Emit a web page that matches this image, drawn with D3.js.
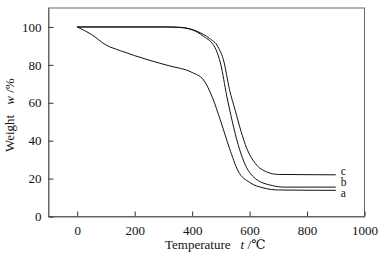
<!DOCTYPE html>
<html>
<head>
<meta charset="utf-8">
<script src="https://cdn.jsdelivr.net/npm/d3@7"></script>
<style>
  body { margin: 0; background: #fff; }
</style>
</head>
<body>
<div id="chart"></div>
<script>
// TGA curves (temperature in degC, weight in %)
const tempA = [0, 50, 100, 150, 250, 320, 400, 440, 470, 500, 530, 560, 600, 650, 700, 900];
const weightA = [100, 96, 90.5, 87.5, 82.5, 79.5, 76, 72, 63, 50, 36, 24, 18, 15, 14, 13.8];

const tempB = [0, 300, 350, 400, 440, 480, 500, 520, 540, 560, 580, 620, 680, 720, 900];
const weightB = [100, 100, 99.8, 98.5, 95, 89, 80, 64, 50, 38, 29, 20, 16.3, 15.5, 15.5];

const tempC = [0, 300, 360, 420, 460, 490, 510, 530, 550, 570, 590, 620, 660, 700, 900];
const weightC = [100, 100, 99.8, 97.5, 94, 89.5, 82, 67, 56, 45, 36, 28, 23.5, 22.2, 22];

const seriesNames = ["a", "b", "c"];
const xTicks = [0, 200, 400, 600, 800, 1000];
const yTicks = [0, 20, 40, 60, 80, 100];

const width = 379, height = 256;
const margin = { top: 8, right: 14.5, bottom: 39.5, left: 48.5 };
const serif = "'Liberation Serif', 'Times New Roman', 'DejaVu Serif', serif";

const svg = d3.select("#chart").append("svg")
  .attr("width", width)
  .attr("height", height)
  .attr("font-family", serif);

const x = d3.scaleLinear().domain([-100, 1000]).range([margin.left, width - margin.right]);
const y = d3.scaleLinear().domain([0, 110]).range([height - margin.bottom, margin.top]);

const series = [
  { name: seriesNames[0], pts: tempA.map((t, i) => [t, weightA[i]]), dy: 3 },
  { name: seriesNames[1], pts: tempB.map((t, i) => [t, weightB[i]]), dy: -5 },
  { name: seriesNames[2], pts: tempC.map((t, i) => [t, weightC[i]]), dy: -3.5 }
];

// frame
svg.append("rect")
  .attr("x", margin.left)
  .attr("y", margin.top)
  .attr("width", width - margin.left - margin.right)
  .attr("height", height - margin.top - margin.bottom)
  .attr("fill", "none")
  .attr("stroke", "#666")
  .attr("stroke-width", 1);

// bottom axis, ticks pointing inward
const xAxis = svg.append("g")
  .attr("transform", `translate(0,${y(0)})`)
  .call(d3.axisBottom(x).tickValues(xTicks).tickFormat(d3.format("d"))
    .tickSizeInner(-5).tickSizeOuter(0).tickPadding(9));
xAxis.attr("font-family", serif).attr("font-size", 13);
xAxis.select(".domain").attr("stroke", "#666");
xAxis.selectAll(".tick line").attr("stroke", "#333");
xAxis.selectAll("text").attr("fill", "#111");

// left axis, ticks pointing inward
const yAxis = svg.append("g")
  .attr("transform", `translate(${margin.left},0)`)
  .call(d3.axisLeft(y).tickValues(yTicks).tickSizeInner(-5).tickSizeOuter(0).tickPadding(7));
yAxis.attr("font-family", serif).attr("font-size", 13);
yAxis.select(".domain").attr("stroke", "#666");
yAxis.selectAll(".tick line").attr("stroke", "#333");
yAxis.selectAll("text").attr("fill", "#111");

// axis titles
const xt = svg.append("text")
  .attr("x", 165)
  .attr("y", 249)
  .attr("font-size", 13)
  .attr("fill", "#111");
xt.append("tspan").text("Temperature");
xt.append("tspan").attr("dx", 10).attr("font-style", "italic").text("t");
xt.append("tspan").text(" /\u2103");

const yt = svg.append("text")
  .attr("transform", `translate(14,152) rotate(-90)`)
  .attr("font-size", 13)
  .attr("fill", "#111");
yt.append("tspan").text("Weight");
yt.append("tspan").attr("dx", 10).attr("font-style", "italic").text("w");
yt.append("tspan").text(" /%");

// curves
const line = d3.line()
  .x(d => x(d[0]))
  .y(d => y(d[1]))
  .curve(d3.curveMonotoneX);

svg.selectAll("path.curve")
  .data(series)
  .enter().append("path")
  .attr("class", "curve")
  .attr("fill", "none")
  .attr("stroke", "#111")
  .attr("stroke-width", 1)
  .attr("d", d => line(d.pts));

// end labels
svg.selectAll("text.lab")
  .data(series)
  .enter().append("text")
  .attr("class", "lab")
  .attr("x", d => x(d.pts[d.pts.length - 1][0]) + 5)
  .attr("y", d => y(d.pts[d.pts.length - 1][1]) + d.dy)
  .attr("dy", "0.35em")
  .attr("font-size", 11.5)
  .attr("fill", "#111")
  .text(d => d.name);
</script>
</body>
</html>
